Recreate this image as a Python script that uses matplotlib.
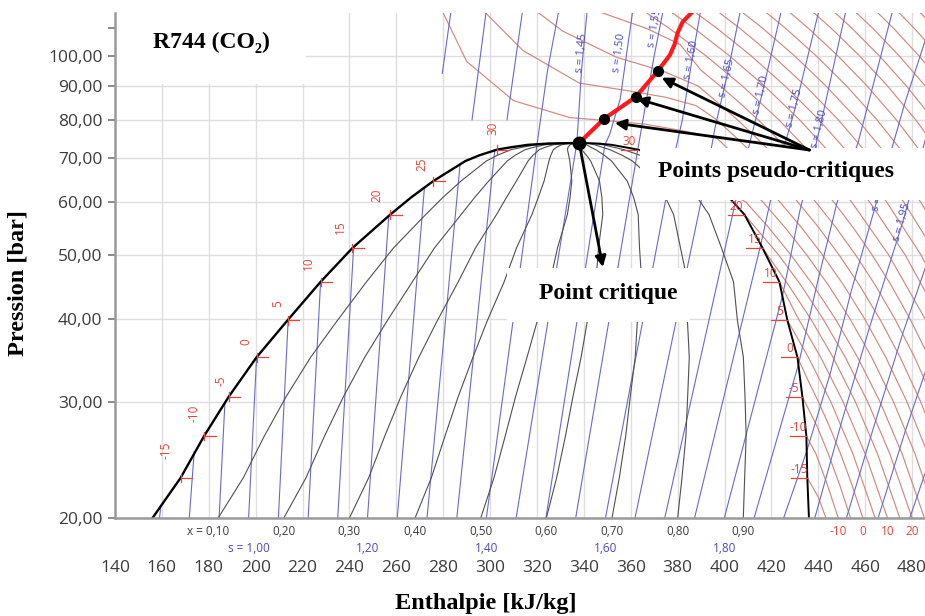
import matplotlib
matplotlib.use('Agg')
import matplotlib.pyplot as plt
from matplotlib.patches import Rectangle
from matplotlib.ticker import FixedLocator, NullFormatter

plt.rcParams['font.family'] = ['Open Sans', 'DejaVu Sans']
SERIF = ['Liberation Serif', 'DejaVu Serif']

# saturation curve of R744 (T in C, p in bar, h in kJ/kg)
sat_T = [-19.5, -15, -10, -5, 0, 5, 10, 15, 20, 22.5, 25, 28, 29, 30, 30.4, 30.7, 30.9, 31.0]
sat_p = [20.0, 23.0, 26.6, 30.5, 35.0, 39.8, 45.5, 51.2, 57.5, 61.0, 64.6, 69.3, 70.7, 72.1,
         72.7, 73.3, 73.65, 73.8]
sat_hl = [156, 168, 178, 188.5, 200.4, 213.6, 227.7, 241.3, 257.4, 266.2, 275.7, 289.5, 295.5,
          303, 309, 316, 325, 338]
sat_hv = [436, 435.3, 434.9, 433.2, 431.1, 426.8, 423.4, 416.2, 408.5, 402.0, 394, 378.5, 371.5,
          363, 357.5, 352, 346, 338]

qualities = [0.1, 0.2, 0.3, 0.4, 0.5, 0.6, 0.7, 0.8, 0.9]
q_labels = ['x = 0,10', '0,20', '0,30', '0,40', '0,50', '0,60', '0,70', '0,80', '0,90']

# isentropes inside the dome: start at 20 bar, end on the dome
isen_s = [0.85, 0.90, 0.95, 1.00, 1.05, 1.10, 1.15, 1.20, 1.25, 1.30, 1.35,
          1.40, 1.45, 1.50, 1.55, 1.60, 1.65, 1.70, 1.75, 1.80, 1.85, 1.90]
isen_h20 = [159.0, 171.7, 184.4, 197.0, 209.7, 222.4, 235.0, 247.7, 260.4, 273.1, 285.8,
            298.4, 311.1, 323.8, 336.5, 349.2, 361.8, 374.5, 387.2, 399.9, 412.6, 425.2]
isen_top_h = [159.6, 173.8, 186.9, 200.4, 213.9, 227.7, 241.8, 256.8, 272.0, 287.2, 302.0,
              320.0, 337.0, 349.0, 363.0, 378.0, 392.0, 404.4, 415.5, 424.7, 431.5, 435.0]
isen_top_p = [20.9, 25.2, 29.9, 35.0, 40.0, 45.5, 51.3, 57.3, 63.2, 68.5, 72.0,
              73.4, 73.8, 73.4, 72.1, 69.2, 65.1, 59.6, 51.9, 43.3, 34.1, 25.2]

# isentropes outside the dome (liquid / supercritical / vapour)
isen_vap_h = [
    [279.6, 283.5],
    [292.3, 298.5],
    [307.2, 314.0],
    [320.0, 324.5, 329.5],
    [337.0, 339.0, 341.5],
    [349.0, 351.0, 355.5, 361.0],
    [363.0, 366.5, 370.0, 374.0],
    [378.0, 382.0, 386.0, 390.0],
    [392.0, 396.0, 401.0, 407.0],
    [404.4, 410.0, 416.0, 424.5],
    [415.5, 422.0, 430.0, 440.5],
    [424.7, 432.0, 440.5, 452.0],
    [431.5, 440.0, 448.0, 457.0, 472.0],
    [435.0, 445.0, 454.0, 464.0, 477.0, 488.0],
    [438.5, 450.0, 462.0, 476.0, 490.0],
    [452.0, 463.0, 476.0, 490.0],
    [465.5, 477.0, 490.0],
    [479.0, 490.0],
]
isen_vap_p = [
    [94.0, 118],
    [80.0, 118],
    [80.0, 118],
    [73.4, 95, 118],
    [73.8, 95, 118],
    [73.4, 76, 86, 118],
    [72.1, 85, 100, 118],
    [69.2, 80, 98, 118],
    [65.1, 78, 93, 118],
    [59.6, 72, 87.5, 118],
    [51.9, 66, 83, 118],
    [43.3, 58, 77.3, 118],
    [34.1, 46, 60, 74, 118],
    [25.2, 33, 44, 58.7, 85, 112],
    [20, 28, 39, 56, 85],
    [20, 27, 38, 53],
    [20, 27, 37],
    [20, 26],
]

s_lab = ['s = 1,45', 's = 1,50', 's = 1,55', 's = 1,60', 's = 1,65', 's = 1,70',
         's = 1,75', 's = 1,80', 's = 1,85', 's = 1,90', 's = 1,95']
s_lab_h = [339.1, 355.3, 370.2, 386.0, 400.9, 415.7, 429.8, 440.4, 452.3, 466.8, 475.7]
s_lab_p = [101.1, 101.1, 110.0, 98.4, 92.4, 87.1, 83.2, 77.6, 67.2, 62.2, 56.0]
s_lab_rot = [84, 82, 80, 79, 77, 77, 76, 76, 76, 75, 74]

s_bot_lab = ['s = 1,00', '1,20', '1,40', '1,60', '1,80']
s_bot_val = [1.00, 1.20, 1.40, 1.60, 1.80]

# isotherms in the vapour / supercritical region
iso_T = [-15, -10, -5, 0, 5, 10, 15, 20, 25, 30, 35, 40, 45, 50, 55, 60, 65, 70,
         75, 80, 85, 90, 95, 100, 105, 110, 115]
iso_h = [
    [435.3, 440.0, 443.25],
    [434.9, 439.0, 443.75, 448.5],
    [433.2, 439.5, 444.25, 449.0, 453.75],
    [431.1, 435.25, 440.0, 444.75, 449.5, 454.25, 459.0],
    [426.8, 435.75, 445.25, 454.75, 464.25],
    [423.4, 431.5, 441.0, 450.5, 460.0, 469.5],
    [416.2, 427.25, 436.75, 446.25, 455.75, 465.25, 474.75],
    [408.5, 423.0, 432.5, 442.0, 451.5, 461.0, 470.5, 480.0],
    [394.0, 409.25, 418.75, 428.25, 437.75, 447.25, 456.75, 466.25, 475.75, 485.25],
    [363.0, 385.0, 398.0, 407.25, 416.5, 425.75, 435.0, 444.25, 453.5, 462.75, 472.0, 481.25, 490.5],
    [279.0, 290.0, 310.0, 334.0, 349.0, 366.0, 382.0, 396.75, 405.75, 414.75, 423.75, 432.75,
     441.75, 450.75, 459.75, 468.75, 477.75, 486.75],
    [296.0, 314.0, 338.0, 359.6, 375.0, 388.0, 396.6, 405.3, 414.0, 422.7, 431.4, 440.1,
     448.8, 457.5, 466.2, 474.9, 483.6, 492.3],
    [318.0, 331.0, 354.0, 373.6, 388.65, 397.0, 405.45, 413.85, 422.25, 430.65, 439.05,
     447.45, 455.85, 464.25, 472.65, 481.05, 489.45],
    [342.0, 366.8, 381.0, 390.0, 398.1, 406.2, 414.3, 422.4, 430.5, 438.6, 446.7, 454.8,
     462.9, 471.0, 479.1, 487.2],
    [360.75, 376.35, 391.95, 407.55, 423.15, 438.75, 454.35, 469.95, 485.55],
    [372.0, 387.0, 402.0, 417.0, 432.0, 447.0, 462.0, 477.0, 492.0],
    [382.25, 396.75, 411.25, 425.75, 440.25, 454.75, 469.25, 483.75, 498.25],
    [392.5, 406.5, 420.5, 434.5, 448.5, 462.5, 476.5, 490.5],
    [402.75, 416.25, 429.75, 443.25, 456.75, 470.25, 483.75, 497.25],
    [413.0, 426.0, 439.0, 452.0, 465.0, 478.0, 491.0],
    [423.25, 435.75, 448.25, 460.75, 473.25, 485.75, 498.25],
    [433.5, 445.5, 457.5, 469.5, 481.5, 493.5],
    [442.75, 454.35, 465.95, 477.55, 489.15],
    [452.0, 463.2, 474.4, 485.6, 496.8],
    [461.25, 472.05, 482.85, 493.65],
    [470.5, 480.9, 491.3],
    [479.75, 489.75],
]
iso_p = [
    [23.0, 21.5, 20],
    [26.6, 25, 22.5, 20],
    [30.5, 27.5, 25, 22.5, 20],
    [35.0, 32.5, 30, 27.5, 25, 22.5, 20],
    [39.8, 35, 30, 25, 20],
    [45.5, 40, 35, 30, 25, 20],
    [51.2, 45, 40, 35, 30, 25, 20],
    [57.5, 50, 45, 40, 35, 30, 25, 20],
    [64.6, 60, 55, 50, 45, 40, 35, 30, 25, 20],
    [72.1, 71.3, 70, 65, 60, 55, 50, 45, 40, 35, 30, 25, 20],
    [118, 98, 85.5, 80.6, 79.8, 78.8, 77, 75, 70, 65, 60, 55, 50, 45, 40, 35, 30, 25],
    [118, 101.8, 90.9, 88.4, 86.5, 84, 80, 75, 70, 65, 60, 55, 50, 45, 40, 35, 30, 25],
    [118, 108.9, 99.4, 94.8, 90, 85, 80, 75, 70, 65, 60, 55, 50, 45, 40, 35, 30],
    [118, 109.9, 104, 95, 90, 85, 80, 75, 70, 65, 60, 55, 50, 45, 40, 35],
    [120, 110, 100, 90, 80, 70, 60, 50, 40],
    [120, 110, 100, 90, 80, 70, 60, 50, 40],
    [120, 110, 100, 90, 80, 70, 60, 50, 40],
    [120, 110, 100, 90, 80, 70, 60, 50],
    [120, 110, 100, 90, 80, 70, 60, 50],
    [120, 110, 100, 90, 80, 70, 60],
    [120, 110, 100, 90, 80, 70, 60],
    [120, 110, 100, 90, 80, 70],
    [120, 110, 100, 90, 80],
    [120, 110, 100, 90, 80],
    [120, 110, 100, 90],
    [120, 110, 100],
    [120, 110],
]

liq_mark_T = [-15, -10, -5, 0, 5, 10, 15, 20, 25, 30]
liq_lab_h = [161.7, 173.6, 185.1, 195.7, 209.4, 222.6, 236.2, 251.9, 271.1, 301.3]
liq_lab_p = [25.35, 28.8, 32.3, 36.9, 42.2, 48.6, 55.0, 61.5, 68.6, 77.6]
vap_mark_T = [-15, -10, -5, 0, 5, 10, 15, 20, 30]
bot_T = [-10, 0, 10, 20]

# pseudo-critical line (drawn in red)
pc_h = [338.0, 348.5, 362.1, 371.5, 376.6, 378.7, 380.0, 382.1, 386.0, 388.0]
pc_p = [73.8, 80.2, 86.6, 94.8, 100.1, 104.0, 108.3, 112.4, 116.2, 118.0]

yticks = [20, 30, 40, 50, 60, 70, 80, 90, 100]
xticks = list(range(140, 481, 20))

BLUE = '#6a6acc'
BLUE_TXT = '#4a4ac2'
RED = '#d08a7f'
RED_TXT = '#e5453d'
GRAY_TXT = '#3c3c3c'

fig = plt.figure(figsize=(9.25, 6.16), dpi=100)
ax = fig.add_axes([0.1243, 0.1591, 0.8757, 0.8198])
ax.set_yscale('log')
ax.set_xlim(140, 485.5)
ax.set_ylim(20, 116)

ax.set_xticks(xticks)
ax.set_yticks(yticks)
ax.set_yticklabels([f'{v:.2f}'.replace('.', ',') for v in yticks])
ax.yaxis.set_minor_locator(FixedLocator([110]))
ax.yaxis.set_minor_formatter(NullFormatter())
ax.grid(True, which='major', color='#dedede', lw=1.0, zorder=0)
ax.set_axisbelow(True)
ax.tick_params(axis='x', length=0, pad=30, labelsize=12.5, labelcolor=GRAY_TXT)
ax.tick_params(axis='y', which='both', length=5, width=1.2, color='#777777',
               pad=4, labelsize=12.5, labelcolor=GRAY_TXT)
for side in ['top', 'right']:
    ax.spines[side].set_visible(False)
for side in ['left', 'bottom']:
    ax.spines[side].set_color('#9a9a9a')
    ax.spines[side].set_linewidth(1.8)
    ax.spines[side].set_zorder(5)

# isotherms
for hs, ps in zip(iso_h, iso_p):
    ax.plot(hs, ps, color=RED, lw=0.85, zorder=2)

# isentropes
for h0, ht, pt in zip(isen_h20, isen_top_h, isen_top_p):
    ax.plot([h0, ht], [20, pt], color=BLUE, lw=0.8, zorder=2.2)
for hs, ps in zip(isen_vap_h, isen_vap_p):
    ax.plot(hs, ps, color=BLUE, lw=0.8, zorder=2.2)

# quality lines
for q in qualities:
    hq = [hl + q * (hv - hl) for hl, hv in zip(sat_hl, sat_hv)]
    ax.plot(hq, sat_p, color='#505050', lw=0.8, zorder=2.5)

# saturation dome
ax.plot(sat_hl, sat_p, color='black', lw=1.7, zorder=3)
ax.plot(sat_hv, sat_p, color='black', lw=1.4, zorder=3)

# temperature marks on the dome
for k, T in enumerate(liq_mark_T):
    i = sat_T.index(T)
    hl, p = sat_hl[i], sat_p[i]
    ax.plot([hl, hl + 5], [p, p], color=RED_TXT, lw=0.9, zorder=3.2)
    ax.plot([hl, hl], [p * 0.985, p * 1.015], color=RED_TXT, lw=0.9, zorder=3.2)
    ax.text(liq_lab_h[k], liq_lab_p[k], str(T), rotation=90, color=RED_TXT,
            fontsize=8.5, ha='center', va='center', zorder=3.5, clip_on=True)
for T in vap_mark_T:
    i = sat_T.index(T)
    hv, p = sat_hv[i], sat_p[i]
    ax.plot([hv - 7, hv], [p, p], color=RED_TXT, lw=0.9, zorder=3.2)
    ax.annotate(str(T), (hv - 3.5, p), xytext=(0, 2), textcoords='offset pixels',
                color=RED_TXT, fontsize=8.5, ha='center', va='bottom',
                zorder=3.5, annotation_clip=True)

# rotated entropy labels
for t, h, p, r in zip(s_lab, s_lab_h, s_lab_p, s_lab_rot):
    ax.text(h, p, t, rotation=r, color=BLUE_TXT, fontsize=8, ha='center',
            va='center', zorder=3.5, clip_on=True)

# labels under the axis
xtr = ax.get_xaxis_transform()
for q, t in zip(qualities, q_labels):
    h = sat_hl[0] + q * (sat_hv[0] - sat_hl[0])
    dx = -10 if t.startswith('x') else 0
    ax.annotate(t, (h, -0.026), xycoords=xtr, xytext=(dx, 0), textcoords='offset pixels',
                ha='center', va='center', fontsize=8.5, color=GRAY_TXT,
                annotation_clip=False)
for s, t in zip(s_bot_val, s_bot_lab):
    h = isen_h20[isen_s.index(s)]
    ax.text(h, -0.06, t, transform=xtr, ha='center', va='center', fontsize=8.5,
            color=BLUE_TXT, clip_on=False)
for T in bot_T:
    hs = iso_h[iso_T.index(T)]
    ax.text(hs[-1], -0.026, str(T), transform=xtr, ha='center', va='center',
            fontsize=8.5, color=RED_TXT, clip_on=False)

# white label boxes
ax.add_patch(Rectangle((140.3, 90.6), 81.0, 30, facecolor='white', edgecolor='none', zorder=4))
ax.add_patch(Rectangle((363.8, 60.4), 125, 12.2, facecolor='white', edgecolor='none', zorder=4))
ax.add_patch(Rectangle((307.2, 39.5), 77.9, 8.2, facecolor='white', edgecolor='none', zorder=4))

ax.text(181.3, 104.6, 'R744 (CO\u2082)', family=SERIF, weight='bold', fontsize=17,
        ha='center', va='center', zorder=5)
ax.text(422.1, 66.8, 'Points pseudo-critiques', family=SERIF, weight='bold', fontsize=17,
        ha='center', va='center', zorder=5)
ax.text(350.6, 43.7, 'Point critique', family=SERIF, weight='bold', fontsize=17,
        ha='center', va='center', zorder=5)

# pseudo-critical line, points and arrows
ax.plot(pc_h, pc_p, color='#ff1a1a', lw=3, zorder=6, solid_capstyle='round')
ax.plot(pc_h[0], pc_p[0], 'o', color='black', ms=9, zorder=7)
ax.plot(pc_h[1:4], pc_p[1:4], 'o', color='black', ms=7, zorder=7)

arrow = dict(arrowstyle='-|>', color='black', lw=2, mutation_scale=16, shrinkA=0, shrinkB=0)
ax.annotate('', xy=(348.1, 47.9), xytext=(pc_h[0], pc_p[0]), arrowprops=arrow, zorder=6.5)
for h, p in zip([353.2, 362.6, 373.2], [79.1, 86.1, 92.6]):
    ax.annotate('', xy=(h, p), xytext=(436.2, 72.0), arrowprops=arrow, zorder=6.5)

fig.text(0.525, 0.021, 'Enthalpie [kJ/kg]', family=SERIF, weight='bold', fontsize=17.5,
         ha='center', va='center')
fig.text(0.0195, 0.54, 'Pression [bar]', family=SERIF, weight='bold', fontsize=17.5,
         rotation=90, ha='center', va='center')

fig.savefig('out.png', dpi=100)
